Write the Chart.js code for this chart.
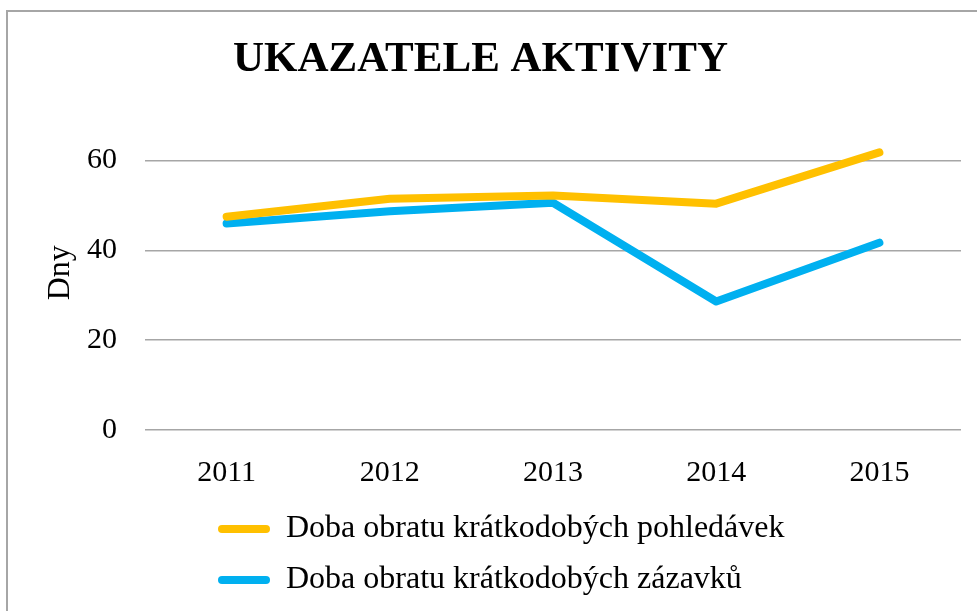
<!DOCTYPE html>
<html>
<head>
<meta charset="utf-8">
<script src="https://cdn.jsdelivr.net/npm/chart.js@4"></script>
<style>
  html, body { margin: 0; padding: 0; overflow: hidden; background: #fff; }
  #frame { position: absolute; left: 6px; top: 10px; width: 1000px; height: 700px; border: 2px solid #a6a6a6; }
  #wrap { position: absolute; left: 0; top: 0; width: 977px; height: 606px; }
</style>
</head>
<body>
<div id="frame"></div>
<div id="wrap"><canvas id="chart"></canvas></div>
<script>
const years = ["2011", "2012", "2013", "2014", "2015"];
const pohledavky = [47.5, 51.5, 52.2, 50.4, 61.8];
const zasoby = [46.0, 48.7, 50.6, 28.6, 41.7];
const yTicks = [0, 20, 40, 60];

const font = "'Liberation Serif', 'Times New Roman', serif";

// put the legend rows at the same left edge as in Excel
const legendShift = {
  id: "legendShift",
  afterLayout(chart) { chart.legend.left = 199; }
};

const ctx = document.getElementById("chart").getContext("2d");
new Chart(ctx, {
  type: "line",
  data: {
    labels: years,
    datasets: [
      { label: "Doba obratu krátkodobých pohledávek", data: pohledavky, borderColor: "#FFC000", backgroundColor: "#FFC000" },
      { label: "Doba obratu krátkodobých zázavků", data: zasoby, borderColor: "#00B0F0", backgroundColor: "#00B0F0" }
    ]
  },
  options: {
    responsive: true,
    maintainAspectRatio: false,
    animation: false,
    layout: { padding: { left: 0, right: 16, top: 0, bottom: 0 } },
    elements: {
      line: { borderWidth: 8, tension: 0, borderCapStyle: "round", borderJoinStyle: "round", fill: false },
      point: { radius: 0, hoverRadius: 0 }
    },
    plugins: {
      title: {
        display: true,
        text: "UKAZATELE AKTIVITY",
        color: "#000",
        font: { family: font, size: 43, weight: "bold" },
        padding: { top: 34, bottom: 30 }
      },
      legend: {
        position: "bottom",
        align: "start",
        labels: {
          color: "#000",
          font: { family: font, size: 32 },
          boxWidth: 52,
          boxHeight: 8,
          padding: 19,
          useBorderRadius: true,
          borderRadius: 4,
          generateLabels(chart) {
            return chart.data.datasets.map((ds, i) => ({
              text: ds.label,
              fillStyle: ds.borderColor,
              strokeStyle: ds.borderColor,
              lineWidth: 0,
              borderRadius: 4,
              datasetIndex: i
            }));
          }
        }
      },
      tooltip: { enabled: false }
    },
    scales: {
      x: {
        offset: true,
        grid: { display: false },
        border: { display: false },
        ticks: { color: "#000", font: { family: font, size: 30 }, padding: 17, maxRotation: 0 },
        afterFit(scale) { scale.height = 64; }
      },
      y: {
        min: 0,
        max: 70,
        afterBuildTicks(scale) { scale.ticks = yTicks.map(v => ({ value: v })); },
        grid: { color: "#a6a6a6", lineWidth: 1.5, drawTicks: false },
        border: { display: false },
        ticks: { color: "#000", font: { family: font, size: 30 }, padding: 28 },
        title: {
          display: true,
          text: "Dny",
          color: "#000",
          font: { family: font, size: 32 },
          padding: { top: 41, bottom: 0 }
        },
        afterFit(scale) { scale.width = 145; }
      }
    }
  },
  plugins: [legendShift]
});
</script>
</body>
</html>
